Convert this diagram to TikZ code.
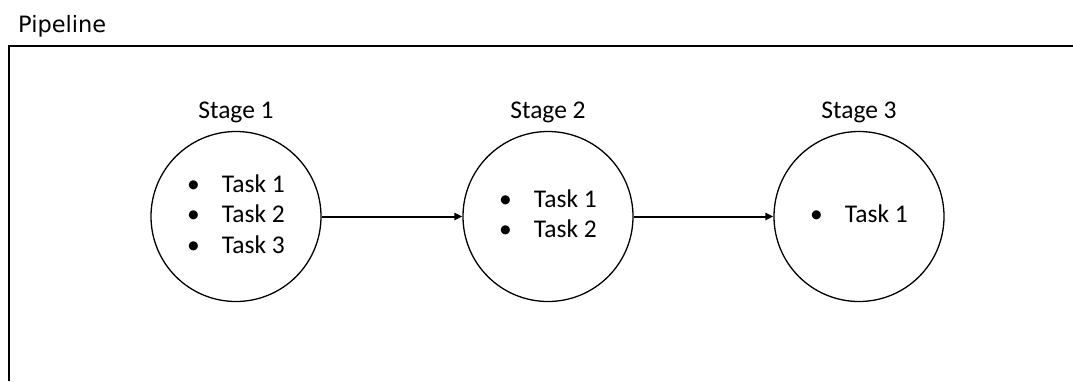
\documentclass[tikz,border=0pt]{standalone}
\usepackage{fontspec}
\setmainfont{Carlito}
\newfontfamily\dejavu{DejaVu Sans}
\usetikzlibrary{arrows.meta}
\begin{document}
\begin{tikzpicture}[x=1pt,y=-1pt,
  stagecircle/.style={circle, draw, line width=1.3pt, minimum size=170pt, inner sep=0pt,
    font=\fontsize{25.5}{30.5}\selectfont},
  stagelabel/.style={anchor=base, inner sep=0pt, font=\fontsize{25.5}{30}\selectfont},
  titlelabel/.style={anchor=base west, inner sep=0pt, font=\dejavu\fontsize{22.5}{27}\selectfont},
  flow/.style={line width=2pt, -{Triangle[length=8pt,width=7pt]}},
  frame/.style={line width=2pt}]
\useasboundingbox (0,0) rectangle (1073,381);
\coordinate (fbl) at (9,381);
\coordinate (ftl) at (9,45.5);
\coordinate (ftr) at (1073,45.5);
\draw[frame] (fbl) -- (ftl) -- (ftr);
\node[titlelabel] (title) at (18,32) {Pipeline};

\node[stagecircle] (s1) at (236,216.5) {\begin{tabular}{@{}l@{\hspace{22pt}}l@{}}\textbullet & Task 1\\ \textbullet & Task 2\\ \textbullet & Task 3\end{tabular}};
\node[stagecircle] (s2) at (548,216.5) {\begin{tabular}{@{}l@{\hspace{22pt}}l@{}}\textbullet & Task 1\\ \textbullet & Task 2\end{tabular}};
\node[stagecircle] (s3) at (859,216.5) {\begin{tabular}{@{}l@{\hspace{22pt}}l@{}}\textbullet & Task 1\end{tabular}};

\node[stagelabel] (l1) at (236,118) {Stage 1};
\node[stagelabel] (l2) at (548,118) {Stage 2};
\node[stagelabel] (l3) at (859,118) {Stage 3};

\draw[flow] (s1) -- (s2);
\draw[flow] (s2) -- (s3);
\end{tikzpicture}
\end{document}
